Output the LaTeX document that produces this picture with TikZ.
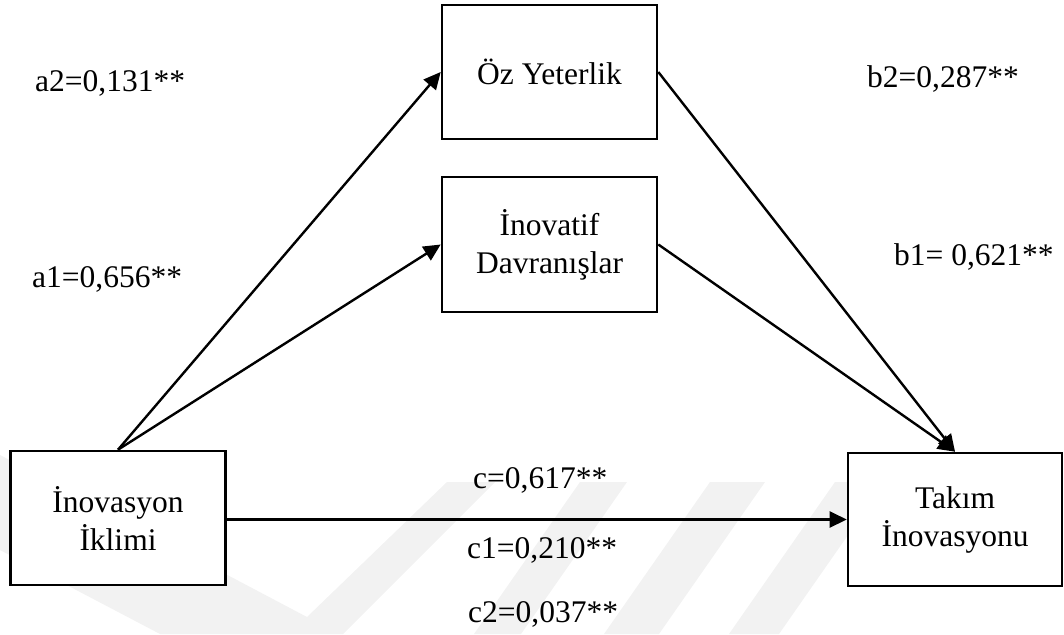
\documentclass[tikz,border=0pt]{standalone}
\usepackage{fontspec}
\setmainfont{Liberation Serif}
\usetikzlibrary{arrows.meta}
\begin{document}
\begin{tikzpicture}[x=1pt,y=-1pt,
  box/.style={draw, line width=2.6pt, fill=white, align=center, inner sep=0pt,
    minimum width=215pt, minimum height=134pt,
    font=\fontsize{31.5}{38}\selectfont},
  coef/.style={anchor=base west, inner sep=0pt,
    font=\fontsize{31.5}{38}\selectfont},
  link/.style={line width=2.4pt, -{Triangle[length=17pt,width=16pt]}},
  wm/.style={fill=black!5, draw=none}
]
\useasboundingbox (0,0) rectangle (1064,634);

% faint background emblem: a V and three slanted bars
\fill[wm] (0,455) -- (307,617) -- (447,482) -- (495,482) -- (343,634)
  -- (160,634) -- (0,550) -- cycle;
\fill[wm] (580,482) -- (627,482) -- (521,634) -- (474,634) -- cycle;
\fill[wm] (710,482) -- (765,482) -- (659,634) -- (604,634) -- cycle;
\fill[wm] (835,482) -- (885,482) -- (779,634) -- (729,634) -- cycle;

% variables
\node[box] (ino) at (118,518) {İnovasyon\\İklimi};
\node[box, minimum width=214pt, minimum height=133pt] (tak) at (955,519.5) {Takım\\İnovasyonu};
\node[box] (oz) at (549.5,72) {Öz Yeterlik};
\node[box, minimum height=135pt] (dav) at (549.5,244.5) {İnovatif\\Davranışlar};

% paths
\draw[link] (ino.north) -- (oz.west);
\draw[link] (ino.north) -- (dav.west);
\draw[link] (oz.east) -- (tak.north);
\draw[link] (dav.east) -- (tak.north);
\draw[link] (ino.east |- tak.west) -- (tak.west);

% coefficients
\node[coef] (a2) at (35,91) {a2=0,131**};
\node[coef] (a1) at (32,287) {a1=0,656**};
\node[coef] (b2) at (867,87) {b2=0,287**};
\node[coef] (b1) at (894,265) {b1= 0,621**};
\node[coef] (c) at (473,488) {c=0,617**};
\node[coef] (c1) at (467,558) {c1=0,210**};
\node[coef] (c2) at (468,622) {c2=0,037**};
\end{tikzpicture}
\end{document}
